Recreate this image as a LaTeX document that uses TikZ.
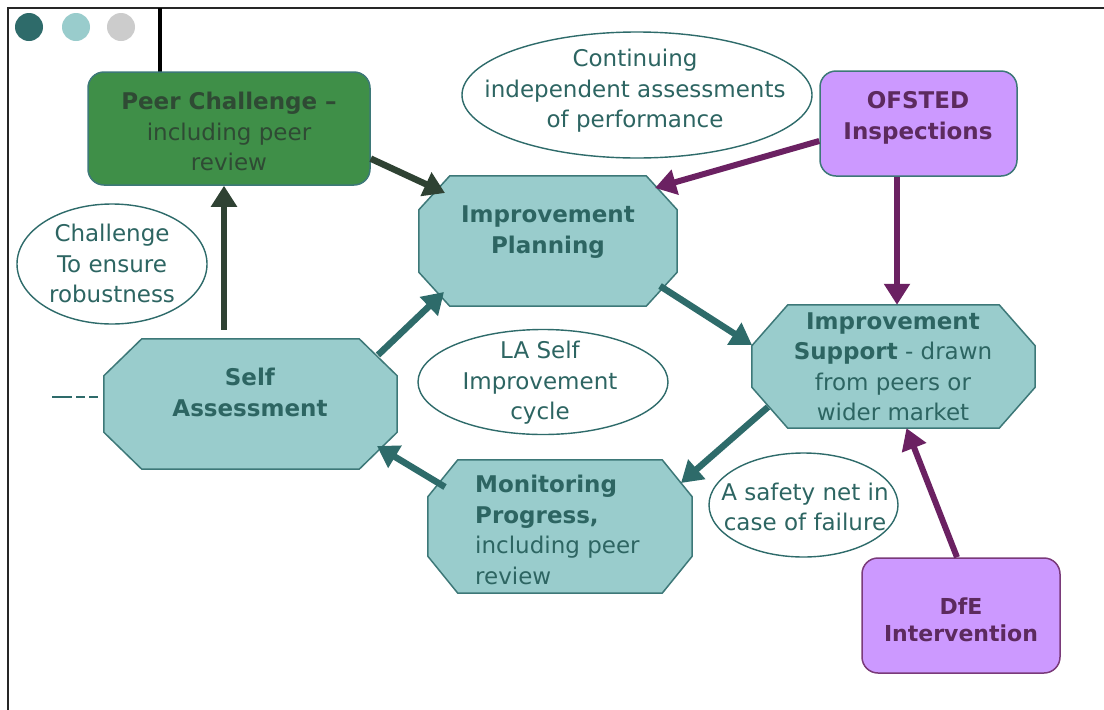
\documentclass[tikz,border=0pt]{standalone}
\usepackage{fontspec}
\setmainfont{DejaVu Sans}
\usetikzlibrary{shapes.geometric,arrows.meta,calc}
\definecolor{tealf}{HTML}{99CCCC}
\definecolor{tealb}{HTML}{3D7878}
\definecolor{tealt}{HTML}{2D6562}
\definecolor{teala}{HTML}{2E6B6A}
\definecolor{greenf}{HTML}{3F8F48}
\definecolor{greent}{HTML}{2F4A34}
\definecolor{darka}{HTML}{2F4233}
\definecolor{purf}{HTML}{CC99FF}
\definecolor{purt}{HTML}{5C2A5E}
\definecolor{pura}{HTML}{6B2162}
\definecolor{purb}{HTML}{7A3A7A}
\definecolor{grayc}{HTML}{CCCCCC}
\newcommand\drawoct[3]{%
  \filldraw[octd] ($(#1.north west)+(#2,0)$) -- ($(#1.north east)+(-#2,0)$)
    -- ($(#1.north east)+(0,#3)$) -- ($(#1.south east)+(0,-#3)$)
    -- ($(#1.south east)+(-#2,0)$) -- ($(#1.south west)+(#2,0)$)
    -- ($(#1.south west)+(0,-#3)$) -- ($(#1.north west)+(0,#3)$) -- cycle;}
\begin{document}
\begin{tikzpicture}[x=1pt,y=-1pt,
  txt/.style={align=center,inner sep=0pt,font=\fontsize{23}{30.5}\selectfont},
  oct/.style={rectangle,inner sep=0pt},
  octd/.style={draw=tealb,fill=tealf,line width=1.5pt,line join=miter},
  ell/.style={ellipse,draw=teala,line width=1.4pt,inner sep=0pt},
  rbox/.style={rectangle,rounded corners=16pt,line width=1.5pt,inner sep=0pt},
  arrd/.style={draw=darka,line width=6.5pt,-{Triangle[length=21pt,width=25pt]}},
  arrt/.style={draw=teala,line width=6.5pt,-{Triangle[length=21pt,width=25pt]}},
  arrp/.style={draw=pura,line width=6pt,-{Triangle[length=21pt,width=25pt]}}]
\useasboundingbox (0,0) rectangle (1104,710);
\fill[white] (0,0) rectangle (1104,710);
% frame
\draw[line width=2pt,black!85] (7.5,710) -- (7.5,7.5) -- (1104,7.5);
\draw[line width=4pt,black] (160,8) -- (160,72);
% dots
\fill[teala] (29,27) circle (14);
\fill[tealf] (76,27) circle (14);
\fill[grayc] (121,27) circle (14);
% boxes
\node[rbox,fill=greenf,draw=tealb,minimum width=282pt,minimum height=113pt] (pc) at (229,128.5) {};
\node[txt,text=greent] (pct) at (229,131.5) {\textbf{Peer Challenge –}\\including peer\\review};
\node[rbox,fill=purf,draw=tealb,minimum width=197pt,minimum height=105pt] (of) at (918.5,123.5) {};
\node[txt,text=purt] (oft) at (918,118) {\textbf{OFSTED}\\\textbf{Inspections}};
\node[rbox,fill=purf,draw=purb,minimum width=198pt,minimum height=115pt] (dfe) at (961,615.5) {};
\node[txt,text=purt,font=\fontsize{22}{27}\selectfont] (dfet) at (961,620) {\textbf{DfE}\\\textbf{Intervention}};
% octagons
\node[oct,minimum width=258pt,minimum height=130pt] (ip) at (548,241) {};
\drawoct{ip}{31}{34}
\node[txt,text=tealt] (ipt) at (548,232) {\textbf{Improvement}\\\textbf{Planning}};
\node[oct,minimum width=283pt,minimum height=123pt] (is) at (893.5,366.5) {};
\drawoct{is}{36}{41}
\node[txt,text=tealt] (ist) at (893,367) {\textbf{Improvement}\\\textbf{Support} - drawn\\from peers or\\wider market};
\node[oct,minimum width=293pt,minimum height=130pt] (sa) at (250.5,404) {};
\drawoct{sa}{38}{37}
\node[txt,text=tealt] (sat) at (250,392.5) {\textbf{Self}\\\textbf{Assessment}};
\node[oct,minimum width=264pt,minimum height=133pt] (mp) at (560,526.5) {};
\drawoct{mp}{30}{37}
\node[txt,text=tealt,align=left,anchor=west] (mpt) at (475,530) {\textbf{Monitoring}\\\textbf{Progress,}\\including peer\\review};
% ellipses
\node[ell,minimum width=190pt,minimum height=120pt] (ch) at (112,264) {};
\node[txt,text=tealt] (cht) at (112,263.5) {Challenge\\To ensure\\robustness};
\node[ell,minimum width=350pt,minimum height=126pt] (ci) at (637,95) {};
\node[txt,text=tealt] (cit) at (635,91) {Continuing\\independent assessments\\of performance};
\node[ell,minimum width=250pt,minimum height=105pt] (la) at (543,382) {};
\node[txt,text=tealt] (lat) at (540,383) {LA Self\\Improvement\\cycle};
\node[ell,minimum width=189pt,minimum height=104pt] (sn) at (803.5,505) {};
\node[txt,text=tealt] (snt) at (805,507) {A safety net in\\case of failure};
% dashes
\coordinate (d1) at (52,397);
\coordinate (d2) at (98,397);
\draw[teala,line width=1.8pt,dash pattern=on 20pt off 4pt on 9pt off 4pt on 9pt] (d1) -- (d2);
% arrows
\draw[arrd] (pc.-12.6) -- ($(ip.center)+(-103,-48)$);
\draw[arrd] ([xshift=-26.5pt,yshift=9pt]sa.north) -- ([xshift=-5pt]pc.south);
\draw[arrp] (of.-170.5) -- ($(ip.center)+(107,-53)$);
\draw[arrp] ([xshift=-21.5pt]of.south) -- ([xshift=-21.5pt]of.south |- is.north);
\draw[arrp] ([xshift=-4pt]dfe.north) -- ([xshift=13pt]is.south);
\draw[arrt] ($(sa.center)+(127.5,-49)$) -- ($(ip.center)+(-104,51)$);
\draw[arrt] ($(ip.center)+(112,45)$) -- ($(is.center)+(-141.5,-21.5)$);
\draw[arrt] ($(is.center)+(-125.5,40.5)$) -- ($(mp.center)+(121,-43.5)$);
\draw[arrt] ($(mp.center)+(-115,-39.5)$) -- ($(sa.center)+(126.5,42)$);
\end{tikzpicture}
\end{document}
